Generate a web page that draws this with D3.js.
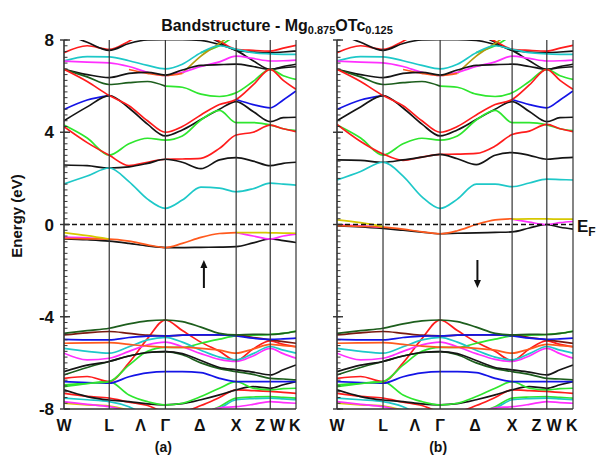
<!DOCTYPE html>
<html><head><meta charset="utf-8">
<script src="https://cdn.jsdelivr.net/npm/d3@7/dist/d3.min.js"></script>
<style>body{margin:0;background:#fff}svg{display:block}text{font-family:"Liberation Sans",Arial,sans-serif;font-weight:bold;fill:#111}</style>
</head><body><svg id="c" width="600" height="459"></svg>
<script>
// ---- k-path sample points (fraction of path) and labels ----
const kGrid = [0, 0.1, 0.195, 0.28, 0.36, 0.437, 0.51, 0.59, 0.67, 0.742, 0.815, 0.889, 0.945, 1];
const kTicks = [0, 0.195, 0.437, 0.742, 0.889, 1];
const kLabelPos = [0, 0.195, 0.33, 0.437, 0.585, 0.742, 0.845, 0.92, 0.995];
const kLabels = ["W", "L", "Λ", "Γ", "Δ", "X", "Z", "W", "K"];
const yMajor = [8, 4, 0, -4, -8];
const yTickLabels = ["8", "4", "0", "-4", "-8"];

// ---- conduction bands (eV) ----
const cCyanLowA  = [1.76, 2.1, 2.45, 1.86, 1.1, 0.70, 1.06, 1.62, 1.58, 1.42, 1.55, 1.79, 1.75, 1.71];
const cCyanLowB  = [1.93, 2.3, 2.7, 2.1, 1.2, 0.70, 1.1, 1.75, 1.75, 1.64, 1.8, 1.97, 1.95, 1.93];
const cBlackLowA = [2.58, 2.55, 2.45, 2.5, 2.65, 2.83, 2.7, 2.42, 2.8, 2.9, 2.75, 2.55, 2.65, 2.7];
const cBlackLowB = [2.8, 2.78, 2.7, 2.8, 2.92, 3.04, 2.85, 2.6, 3.0, 3.12, 3.0, 2.83, 2.88, 2.91];
const cRedLowA   = [4.24, 3.55, 3.0, 2.55, 2.7, 2.83, 2.84, 2.87, 3.3, 3.88, 4.0, 4.31, 4.15, 4.03];
const cRedLowB   = [4.34, 3.6, 3.06, 2.78, 2.92, 3.04, 3.05, 3.08, 3.4, 3.9, 4.05, 4.34, 4.15, 4.03];
const cGreenLow  = [4.31, 3.75, 3.01, 3.5, 3.74, 3.66, 3.84, 4.53, 4.95, 4.42, 4.42, 4.32, 4.15, 4.07];
const cBlue      = [4.99, 5.4, 5.59, null, null, null, null, null, null, 5.42, 5.2, 5.06, 5.4, 5.79];
const cBlack2    = [4.5, 5.1, 5.59, 5.05, 4.35, 3.84, 4.1, 4.55, 5.0, 5.33, 4.9, 4.46, 4.63, 4.65];
const cRed2      = [6.73, 6.2, 5.59, 5.15, 4.5, 4.0, 4.25, 4.75, 5.2, 5.42, 6.05, 6.73, 6.25, 5.86];
const cDarkGreen = [6.73, 6.4, 6.07, 6.15, 6.2, 6.0, null, null, null, null, null, null, null, null];
const cGreenUp   = [null, null, null, null, null, 6.0, 5.95, 5.65, 5.55, 5.71, 6.2, 6.73, 6.45, 6.29];
const cBlack3    = [6.73, 6.5, 6.37, 6.55, 6.6, 6.48, 6.7, 6.9, 6.93, 6.95, 6.85, 6.73, 6.85, 6.95];
const cMagentaUp = [7.08, 7.04, 7.01, 6.85, 6.6, 6.46, 6.6, 6.85, 7.05, 7.3, 7.2, 7.09, 7.1, 7.13];
const cOrangeUp  = [null, null, null, 6.72, 6.55, 6.46, 6.55, null, null, null, null, null, null, null];
const cOlive     = [null, null, null, null, null, null, 6.55, 7.3, 7.85, 8.4, null, null, null, null];
const cCyanUp    = [7.09, 7.28, 7.27, 7.1, 6.9, 6.75, 6.95, 7.45, 7.75, 7.6, 7.45, 7.4, 7.38, 7.38];
const cRedTop    = [7.45, 7.75, 7.59, 7.95, 8.4, 8.8, 8.6, 8.3, 7.95, 7.6, 7.55, 7.52, 7.65, 7.77];
const cBlackTop  = [8.3, 7.9, 7.55, 7.85, 8.0, 8.02, 8.02, 7.98, 7.8, 7.55, 7.1, 6.73, 6.8, 6.84];
const cBlackTop2 = [null, null, null, null, null, null, null, 8.3, 7.9, 7.55, 7.48, 7.45, 7.48, 7.52];
const cGreenTop  = [null, null, null, null, null, null, null, 7.45, 7.75, 8.2, 8.6, null, null, null];

// ---- near-Fermi bands, spin up (a) and spin down (b) ----
const fYellowA1 = [-0.35, -0.48, -0.63, null, null, null, null, null, null, null, null, null, null, null];
const fYellowA2 = [null, null, null, null, null, null, null, null, null, -0.35, -0.35, -0.36, -0.37, -0.38];
const fMagentaA = [-0.55, -0.58, -0.63, null, null, null, null, null, null, -0.35, -0.5, -0.63, -0.5, -0.42];
const fOrangeA  = [-0.6, -0.62, -0.63, -0.72, -0.88, -1.0, -0.82, -0.56, -0.39, -0.35, null, null, null, null];
const fBlackA   = [-0.62, -0.66, -0.72, -0.82, -0.93, -1.0, -1.0, -0.99, -0.98, -0.96, -0.8, -0.62, -0.7, -0.78];
const fYellowB1 = [0.2, 0.08, -0.09, null, null, null, null, null, null, null, null, null, null, null];
const fYellowB2 = [null, null, null, null, null, null, null, null, null, 0.23, 0.24, 0.24, 0.23, 0.23];
const fMagentaB = [-0.02, -0.06, -0.12, null, null, null, null, null, null, 0.23, 0.1, 0.0, 0.08, 0.13];
const fOrangeB  = [-0.05, -0.08, -0.11, -0.2, -0.32, -0.4, -0.27, 0.0, 0.2, 0.25, null, null, null, null];
const fBlackB   = [-0.06, -0.1, -0.17, -0.25, -0.33, -0.4, -0.38, -0.36, -0.34, -0.32, -0.15, 0.0, -0.12, -0.2];

// ---- valence bands (eV) ----
const vDarkGreenTop = [-4.72, -4.6, -4.5, -4.31, -4.18, -4.14, -4.21, -4.45, -4.72, -4.79, -4.76, -4.77, -4.72, -4.64];
const vBlue1    = [-4.98, -5.0, -5.0, -4.9, -4.84, -4.83, -4.8, -4.79, -4.79, -4.83, -4.93, -4.98, -4.96, -4.93];
const vBrown    = [-4.79, -4.7, -4.64, -4.72, -4.8, -4.83, -4.8, -4.79, -4.79, -4.8, -4.9, -5.0, -5.08, -5.15];
const vOrange   = [-5.15, -5.13, -5.12, -5.2, -5.27, -5.32, -5.33, -5.37, -5.45, -5.58, -5.4, -5.2, -5.25, -5.3];
const vCyan1    = [-5.37, -5.5, -5.58, -5.3, -5.0, -4.89, -5.1, -5.45, -5.75, -5.87, -5.6, -5.29, -5.45, -5.58];
const vMagenta1 = [-5.58, -5.87, -5.8, -5.5, -5.22, -5.1, -5.3, -5.6, -5.85, -5.94, -5.7, -5.37, -5.6, -5.8];
const vBlack1   = [-6.38, -6.1, -5.94, -5.7, -5.55, -5.51, -5.6, -5.9, -6.2, -6.3, -6.4, -6.52, -6.3, -6.09];
const vDarkGreen2 = [-6.52, -6.2, -5.94, -5.7, -5.55, -5.51, -5.65, -6.0, -6.25, -6.38, -6.5, -6.67, -6.7, -6.74];
const vGreen1   = [-7.03, -6.9, -6.81, -6.1, -5.5, -5.33, -5.33, -5.15, -4.97, -4.83, -4.8, -4.77, -4.72, -4.62];
const vBlue2    = [-6.81, -6.85, -6.88, -6.6, -6.43, -6.38, -6.38, -6.42, -6.67, -6.81, -6.81, -6.81, -6.81, -6.81];
const vRed1     = [-6.67, -6.59, -6.81, -6.0, -4.95, -4.14, -4.6, -5.1, -5.5, -5.9, -5.4, -5.05, -5.2, -5.3];
const vGreen3   = [-6.95, -6.88, -6.81, -7.39, -7.68, -7.82, -7.75, -7.46, -7.1, -6.81, -7.1, -7.17, -7.12, -7.1];
const vBlack2   = [-7.17, -7.46, -7.61, -7.68, -7.78, -7.82, -7.77, -7.6, -7.39, -7.17, -7.03, -7.1, -6.95, -6.81];
const vRed2     = [-7.32, -7.45, -7.53, -7.7, -7.85, -8.1, -8.1, -7.85, -7.5, -7.17, -7.2, -7.24, -7.28, -7.32];
const vMagenta2 = [-7.68, -7.8, -7.9, -8.1, -8.3, -8.4, -8.4, -8.2, -7.95, -7.9, -7.8, -7.68, -7.72, -7.75];
const vCyan2    = [-7.53, -7.6, -7.68, -7.9, -8.3, -8.5, -8.4, -8.2, -7.98, -7.6, -7.55, -7.53, -7.56, -7.6];
const vYellow   = [-7.75, -7.82, -7.87, -8.05, -8.3, -8.5, -8.5, -8.4, -8.3, -8.2, -8.2, -8.2, -8.2, -8.2];
const vGreen4   = [-8.4, -8.4, -8.4, -8.4, -8.4, -8.4, -8.4, -8.2, -7.9, -7.53, -7.48, -7.46, -7.5, -7.53];

// ---- colours ----
const col = {red:"#ff1c1c", green:"#2ee62e", cyan:"#1ec8c8", blue:"#1414e6", magenta:"#ff30ff",
  black:"#151515", dgreen:"#1d5e1d", olive:"#b49a10", orange:"#ff5a1e", yellow:"#d6c800", brown:"#7a1a10"};

const valence = [[vYellow,"yellow"],[vGreen4,"green"],[vCyan2,"cyan"],[vMagenta2,"magenta"],[vRed2,"red"],
  [vBlack2,"black"],[vGreen3,"green"],[vBlue2,"blue"],[vRed1,"red"],[vGreen1,"green"],[vDarkGreen2,"dgreen"],
  [vBlack1,"black"],[vMagenta1,"magenta"],[vCyan1,"cyan"],[vOrange,"orange"],[vBrown,"brown"],[vBlue1,"blue"],
  [vDarkGreenTop,"dgreen"]];
const conductionShared = [[cGreenTop,"green"],[cBlackTop2,"black"],[cRedTop,"red"],[cBlackTop,"black"],
  [cOlive,"olive"],[cCyanUp,"cyan"],[cMagentaUp,"magenta"],[cOrangeUp,"orange"],[cBlack3,"black"],
  [cGreenUp,"green"],[cDarkGreen,"dgreen"],[cBlue,"blue"],[cBlack2,"black"],[cRed2,"red"],[cGreenLow,"green"]];
const panelA = valence.concat([[fBlackA,"black"],[fMagentaA,"magenta"],[fOrangeA,"orange"],[fYellowA1,"yellow"],[fYellowA2,"yellow"]],
  conductionShared, [[cRedLowA,"red"],[cBlackLowA,"black"],[cCyanLowA,"cyan"]]);
const panelB = valence.concat([[fBlackB,"black"],[fMagentaB,"magenta"],[fOrangeB,"orange"],[fYellowB1,"yellow"],[fYellowB2,"yellow"]],
  conductionShared, [[cRedLowB,"red"],[cBlackLowB,"black"],[cCyanLowB,"cyan"]]);

const svg = d3.select("#c");
const y = d3.scaleLinear().domain([-8, 8]).range([409, 40]);

function drawPanel(id, x0, x1, bands, showLabels, tag, arrowUp, arrowX) {
  const x = d3.scaleLinear().domain([0, 1]).range([x0, x1]);
  const g = svg.append("g");
  g.append("clipPath").attr("id", "clip" + id).append("rect")
    .attr("x", x0).attr("y", y(8)).attr("width", x1 - x0).attr("height", y(-8) - y(8));
  const line = d3.line().defined(d => d[1] !== null).x(d => x(d[0])).y(d => y(d[1])).curve(d3.curveMonotoneX);
  const bg = g.append("g").attr("clip-path", "url(#clip" + id + ")");
  bands.forEach(([vals, c]) => {
    bg.append("path").attr("d", line(kGrid.map((k, i) => [k, vals[i]])))
      .attr("fill", "none").attr("stroke", col[c]).attr("stroke-width", 1.7);
  });
  // Fermi level
  g.append("line").attr("x1", x0).attr("x2", x1).attr("y1", y(0)).attr("y2", y(0))
    .attr("stroke", "#111").attr("stroke-width", 1.3).attr("stroke-dasharray", "5,3");
  // high-symmetry verticals
  kTicks.slice(1).forEach(k => g.append("line").attr("x1", x(k)).attr("x2", x(k))
    .attr("y1", y(8)).attr("y2", y(-8)).attr("stroke", "#333").attr("stroke-width", 1.2));
  // axes
  g.append("line").attr("x1", x0).attr("x2", x0).attr("y1", y(8)).attr("y2", y(-8)).attr("stroke", "#333").attr("stroke-width", 1.6);
  g.append("line").attr("x1", x0).attr("x2", x1).attr("y1", y(-8)).attr("y2", y(-8)).attr("stroke", "#333").attr("stroke-width", 1.6);
  const minor = d3.range(-8, 8.001, 0.25);
  minor.forEach(v => g.append("line").attr("x1", x0).attr("x2", x0 + 3.5).attr("y1", y(v)).attr("y2", y(v))
    .attr("stroke", "#333").attr("stroke-width", 1));
  yMajor.forEach(v => g.append("line").attr("x1", x0 - 4).attr("x2", x0 + 6).attr("y1", y(v)).attr("y2", y(v))
    .attr("stroke", "#333").attr("stroke-width", 1.4));
  if (showLabels) {
    yMajor.forEach((v, i) => g.append("text").attr("x", x0 - 10).attr("y", y(v) + 6)
      .attr("text-anchor", "end").attr("font-size", 17).text(yTickLabels[i]));
  }
  kLabels.forEach((t, i) => g.append("text").attr("x", x(kLabelPos[i])).attr("y", 431)
    .attr("text-anchor", "middle").attr("font-size", 16).text(t));
  g.append("text").attr("x", x(0.437) - 2).attr("y", 452).attr("text-anchor", "middle")
    .attr("font-size", 14).text(tag);
  // spin arrow
  const yTop = 260, yBot = 288;
  const ax = x(arrowX);
  if (arrowUp) {
    g.append("line").attr("x1", ax).attr("x2", ax).attr("y1", yBot).attr("y2", yTop + 6).attr("stroke", "#111").attr("stroke-width", 2);
    g.append("path").attr("d", `M${ax - 3.5},${yTop + 8}L${ax},${yTop}L${ax + 3.5},${yTop + 8}Z`).attr("fill", "#111");
  } else {
    g.append("line").attr("x1", ax).attr("x2", ax).attr("y1", yTop).attr("y2", yBot - 6).attr("stroke", "#111").attr("stroke-width", 2);
    g.append("path").attr("d", `M${ax - 3.5},${yBot - 8}L${ax},${yBot}L${ax + 3.5},${yBot - 8}Z`).attr("fill", "#111");
  }
}

drawPanel("a", 64, 296, panelA, true, "(a)", true, 0.603);
drawPanel("b", 337, 573, panelB, false, "(b)", false, 0.595);

// title
const t = svg.append("text").attr("x", 277).attr("y", 31).attr("text-anchor", "middle").attr("font-size", 16);
t.append("tspan").text("Bandstructure - Mg");
t.append("tspan").attr("font-size", 11).attr("dy", 3).text("0.875");
t.append("tspan").attr("dy", -3).text("OTc");
t.append("tspan").attr("font-size", 11).attr("dy", 3).text("0.125");

// y axis title
svg.append("text").attr("transform", "translate(22,216) rotate(-90)").attr("text-anchor", "middle")
  .attr("font-size", 15).text("Energy (eV)");

// Fermi label
const ef = svg.append("text").attr("x", 577).attr("y", 232).attr("font-size", 17);
ef.append("tspan").text("E");
ef.append("tspan").attr("font-size", 12).attr("dy", 4).text("F");
</script></body></html>
